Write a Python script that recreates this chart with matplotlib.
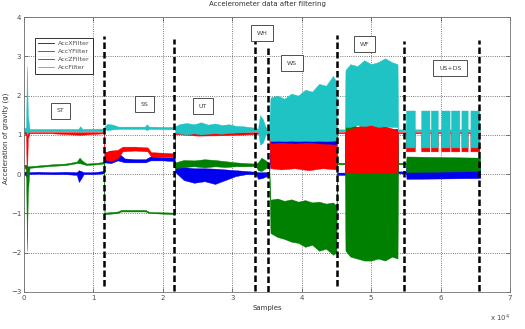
import numpy as np
import matplotlib
matplotlib.use('Agg')
from matplotlib import pyplot as plt
from matplotlib.lines import Line2D
from matplotlib.ticker import FuncFormatter

# envelopes (min / max) of each filtered signal
blue_x = [0, 300, 450, 600, 2000, 4000, 6000, 7600, 7900, 8200, 8600, 10000, 11500,
          11600, 12500, 13500, 14500, 16000, 17500, 18200, 20000, 21700,
          21800, 23000, 24500, 26000, 27500, 29000, 30500, 32000, 33400,
          33700, 34300, 35000, 35300,
          35500, 40000, 45000,
          45100, 46200,
          46300, 53800,
          53900, 55000,
          55100, 65700]
blue_lo = [0.0, -0.05, -0.02, 0.0, 0.01, 0.0, 0.0, -0.02, -0.2, -0.12, 0.0, 0.0, 0.02,
           0.3, 0.28, 0.35, 0.3, 0.3, 0.3, 0.35, 0.35, 0.33,
           0.05, -0.15, -0.22, -0.18, -0.25, -0.15, -0.05, 0.0, 0.0,
           -0.12, -0.1, -0.05, 0.0,
           0.4, 0.4, 0.4,
           -0.02, -0.02,
           0.0, 0.0,
           0.02, 0.02,
           -0.12, -0.1]
blue_hi = [0.05, 0.08, 0.06, 0.05, 0.06, 0.05, 0.06, 0.05, 0.1, 0.08, 0.05, 0.05, 0.08,
           0.55, 0.6, 0.55, 0.4, 0.38, 0.38, 0.45, 0.43, 0.42,
           0.2, 0.18, 0.15, 0.15, 0.14, 0.12, 0.1, 0.08, 0.06,
           0.05, 0.05, 0.05, 0.05,
           0.88, 0.9, 0.86,
           0.04, 0.04,
           1.15, 1.15,
           0.07, 0.07,
           0.3, 0.3]

green_x = [0, 300, 420, 550, 800, 2000, 4000, 6000, 7600, 8000, 8400, 9000, 10500, 11500,
           11600, 13500, 14000, 17500, 18000, 21700,
           21800, 23000, 24500, 26000, 27500, 29000, 30500, 32000, 33400,
           33700, 34200, 34800, 35300,
           35500, 36500, 37500, 38500, 39500, 40500, 41500, 42500, 43500, 44500, 45000,
           45100, 46200,
           46300, 47000, 48000, 49000, 50000, 51000, 52000, 53000, 53800,
           53900, 55000,
           55100, 65700]
green_lo = [0.2, 0.1, -1.95, -0.5, 0.16, 0.18, 0.21, 0.23, 0.28, 0.28, 0.26, 0.23, 0.25, 0.27,
            -1.02, -0.99, -0.95, -0.95, -0.99, -1.02,
            0.15, 0.18, 0.2, 0.17, 0.2, 0.18, 0.2, 0.2, 0.2,
            0.1, 0.08, 0.15, 0.22,
            -1.5, -1.6, -1.65, -1.72, -1.75, -1.85, -1.8, -1.95, -1.9, -2.05, -2.0,
            0.25, 0.25,
            -1.95, -2.1, -2.15, -2.2, -2.2, -2.15, -2.2, -2.1, -2.15,
            0.25, 0.25,
            0.05, 0.08]
green_hi = [0.24, 0.24, 0.2, 0.2, 0.2, 0.22, 0.25, 0.27, 0.32, 0.42, 0.34, 0.27, 0.29, 0.31,
            -0.98, -0.95, -0.91, -0.91, -0.96, -0.98,
            0.3, 0.36, 0.35, 0.38, 0.36, 0.33, 0.3, 0.28, 0.27,
            0.3, 0.42, 0.35, 0.28,
            -0.65, -0.62, -0.68, -0.64, -0.7, -0.66, -0.72, -0.7, -0.75, -0.72, -0.8,
            0.29, 0.29,
            1.25, 1.3, 1.2, 1.25, 1.15, 1.1, 1.05, 1.0, 1.0,
            0.29, 0.29,
            0.45, 0.42]

red_x = [0, 300, 400, 550, 800, 4000, 8000, 11500,
         11600, 12500, 13500, 14200, 16000, 17800, 18300, 21700,
         21800, 25000, 29000, 33400,
         33700, 35300,
         35500, 37000, 39000, 41000, 43000, 45000,
         45100, 46200,
         46300, 47500, 49000, 50500, 52000, 53800,
         53900, 55000]
red_lo = [1.04, 1.0, -0.32, 0.9, 1.04, 1.04, 1.0, 1.04,
          0.38, 0.33, 0.4, 0.58, 0.6, 0.58, 0.45, 0.43,
          1.02, 0.98, 0.99, 1.02,
          1.03, 1.03,
          0.15, 0.12, 0.15, 0.1, 0.15, 0.12,
          1.04, 1.04,
          0.05, 0.05, 0.02, 0.05, 0.03, 0.05,
          1.04, 1.04]
red_hi = [1.07, 1.1, 1.1, 1.1, 1.07, 1.07, 1.07, 1.07,
          0.55, 0.6, 0.62, 0.7, 0.7, 0.68, 0.56, 0.53,
          1.07, 1.07, 1.07, 1.07,
          1.07, 1.07,
          0.78, 0.8, 0.78, 0.8, 0.77, 0.75,
          1.07, 1.07,
          1.1, 1.18, 1.25, 1.3, 1.22, 1.12,
          1.07, 1.07]

cyan_x = [0, 300, 420, 550, 800, 4000, 7800, 8100, 8400, 11500,
          11600, 12000, 12800, 13600, 15000, 17400, 17700, 18000, 21700,
          21800, 22500, 23500, 24500, 25500, 26500, 27500, 28500, 29500, 30500, 31500, 32500, 33400,
          33700, 34000, 34400, 34800, 35300,
          35500, 36500, 37500, 38500, 39500, 40500, 41500, 42500, 43500, 44500, 45000,
          45100, 46200,
          46300, 47000, 48000, 49000, 50000, 51000, 52000, 53000, 53800,
          53900, 55000]
cyan_lo = [1.09, 1.09, 1.0, 1.05, 1.09, 1.09, 1.09, 1.07, 1.09, 1.09,
           1.15, 1.12, 1.14, 1.15, 1.15, 1.15, 1.12, 1.15, 1.14,
           1.06, 1.03, 1.01, 1.04, 1.01, 1.03, 1.04, 1.03, 1.05, 1.06, 1.07, 1.08, 1.09,
           1.09, 0.75, 0.8, 1.0, 1.09,
           0.84, 0.85, 0.84, 0.85, 0.84, 0.85, 0.84, 0.85, 0.84, 0.85, 0.86,
           1.09, 1.09,
           1.2, 1.2, 1.25, 1.22, 1.25, 1.2, 1.22, 1.2, 1.2,
           1.09, 1.09]
cyan_hi = [1.15, 1.2, 2.75, 1.5, 1.15, 1.15, 1.15, 1.22, 1.15, 1.16,
           1.22, 1.28, 1.26, 1.21, 1.21, 1.21, 1.27, 1.21, 1.2,
           1.22, 1.28, 1.3, 1.27, 1.32, 1.26, 1.29, 1.25, 1.27, 1.23, 1.22, 1.2, 1.18,
           1.15, 1.5, 1.4, 1.2, 1.14,
           1.95, 2.0, 1.92, 2.05, 2.0, 2.15, 2.1, 2.3, 2.25, 2.5, 2.35,
           1.14, 1.14,
           2.65, 2.8, 2.75, 2.9, 2.8, 2.85, 2.95, 2.85, 2.8,
           1.14, 1.14]

# US+DS bursts (start / end sample)
usds_start = [55000, 57200, 58600, 60100, 61500, 63000, 64300]
usds_end = [56300, 58400, 59600, 61300, 62700, 63900, 65600]
usds_last = 65700
red_base, red_burst = (1.04, 1.07), (0.58, 1.1)
cyan_base, cyan_burst = (1.09, 1.14), (0.68, 1.62)

# activity boundaries (dashed) and labels
bound_x = [11550, 21540, 33340, 35200, 45080, 54700, 65570]
bound_lo = [-2.85, -2.97, -2.97, -3.0, -2.85, -2.97, -2.97]
bound_hi = [3.52, 3.45, 3.38, 3.3, 3.55, 3.38, 3.42]
act_names = ['ST', 'SS', 'UT', 'WH', 'WS', 'WF', 'US+DS']
act_x = [5250, 17400, 25800, 34300, 38600, 49100, 61400]
act_y = [1.61, 1.78, 1.73, 3.59, 2.82, 3.31, 2.70]

labels = ['AccXFilter', 'AccYFilter', 'AccZFilter', 'AccFilter']
colors = ['#0000ee', '#008000', '#ff0000', '#1fc3c3']


def add_bursts(x, lo, hi, base, burst):
    x, lo, hi = list(x), list(lo), list(hi)
    for s, e in zip(usds_start, usds_end):
        x += [s, s, e, e]
        lo += [base[0], burst[0], burst[0], base[0]]
        hi += [base[1], burst[1], burst[1], base[1]]
    x.append(usds_last)
    lo.append(base[0])
    hi.append(base[1])
    return x, lo, hi


red_env = add_bursts(red_x, red_lo, red_hi, red_base, red_burst)
cyan_env = add_bursts(cyan_x, cyan_lo, cyan_hi, cyan_base, cyan_burst)
series = [(blue_x, blue_lo, blue_hi), (green_x, green_lo, green_hi), red_env, cyan_env]

fig = plt.figure(figsize=(5.25, 3.29), dpi=100)
ax = fig.add_axes([24 / 525, 1 - 292 / 329, 486 / 525, 275 / 329])

for (x, lo, hi), c in zip(series, colors):
    ax.fill_between(x, lo, hi, color=c, lw=0.3, edgecolor=c)

for bx, lo, hi in zip(bound_x, bound_lo, bound_hi):
    ax.plot([bx, bx], [lo, hi], color='k', lw=1.8, dashes=(2.6, 1.2), zorder=5)

for name, tx, ty in zip(act_names, act_x, act_y):
    ax.text(tx, ty, name, fontsize=4.5, ha='center', va='center', color='0.25', zorder=6,
            bbox=dict(boxstyle='square,pad=0.9', fc='white', ec='0.2', lw=0.6))

ax.set_xlim(0, 70000)
ax.set_ylim(-3, 4)
ax.set_xticks(np.arange(0, 70001, 10000))
ax.set_yticks(np.arange(-3, 5, 1))
ax.xaxis.set_major_formatter(FuncFormatter(lambda v, p: f'{v / 1e4:g}'))
ax.grid(True, color='0.3', ls=':', lw=0.6)
ax.set_axisbelow(True)
ax.tick_params(direction='in', length=3, width=0.5, labelsize=5, colors='0.3', pad=2,
               top=True, right=True)
for s in ax.spines.values():
    s.set_color('0.45')
    s.set_linewidth(0.6)

ax.set_title('Accelerometer data after filtering', fontsize=5, color='0.2', pad=8)
ax.set_xlabel('Samples', fontsize=5, color='0.2', labelpad=3)
ax.set_ylabel('Acceleration of gravity (g)', fontsize=5, color='0.2')
ax.yaxis.set_label_coords(-0.03, 0.56)
ax.text(1.0, -0.075, r'x 10$^4$', transform=ax.transAxes, fontsize=5, color='0.3',
        ha='right', va='top')

handles = [Line2D([], [], color=c, lw=0.6) for c in colors]
leg = ax.legend(handles, labels, loc='upper left', bbox_to_anchor=(0.022, 0.925),
                fontsize=4.6, frameon=True, fancybox=False, handlelength=2.6,
                handletextpad=0.5, labelspacing=0.4, borderpad=0.5, borderaxespad=0)
leg.get_frame().set_edgecolor('k')
leg.get_frame().set_linewidth(0.7)
leg.set_zorder(7)
for t in leg.get_texts():
    t.set_color('0.3')

fig.savefig('out.png', dpi=100)
